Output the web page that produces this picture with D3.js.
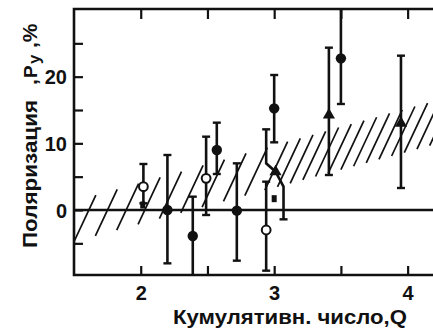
<!DOCTYPE html>
<html><head><meta charset="utf-8">
<script src="https://cdn.jsdelivr.net/npm/d3@7"></script>
<style>
html,body{margin:0;padding:0;background:#fff;}
svg{display:block;}
text{font-family:"Liberation Sans",Arial,sans-serif;font-weight:bold;fill:#111;}
</style></head>
<body>
<svg id="c" width="433" height="329"></svg>
<script>
// ---- data (Q = cumulative number, P = polarization %) ----
const filledQ  = [2.20, 2.39, 2.57, 2.72, 3.00, 3.50];
const filledP  = [0.0, -3.9, 9.0, -0.1, 15.25, 22.75];
const filledLo = [-8.0, -11.0, 5.4, -7.6, 10.15, 15.9];
const filledHi = [8.25, 2.0, 13.1, 7.0, 20.25, 31.0];

const openQ  = [2.02, 2.49, 2.94];
const openP  = [3.5, 4.75, -3.0];
const openLo = [1.0, -0.75, -9.1];
const openHi = [6.9, 11.0, 4.25];

const triQ  = [3.41, 3.95];
const triP  = [14.25, 13.0];
const triLo = [5.25, 3.3];
const triHi = [24.35, 23.15];

// triangle at Q≈3 with a bent error bar
const kinkQ = [2.94, 2.94, 3.01, 3.07, 3.07];
const kinkP = [12.1, 7.0, 5.75, 3.5, -1.4];
const kinkMarkIdx = 2;

const squareQ = [2.015, 3.0];
const squareP = [0.75, 1.7];

// hatched band edges
const bandQ    = [1.5, 4.25];
const bandLow  = [-4.75, 10.1];
const bandHigh = [1.25, 16.6];

const xTicks = [2, 2.5, 3, 3.5, 4];
const xLabels = {2:"2", 3:"3", 4:"4"};
const yTicks = [-5, 0, 5, 10, 15, 20, 25];
const yLabels = {0:"0", 10:"10", 20:"20"};

// ---- layout ----
const svg = d3.select("#c");
const L = 74, T = 9, B = 275, R = 441;
const x = d3.scaleLinear().domain([1.5, 4.25]).range([L, R]);
const y = d3.scaleLinear().domain([-9.75, 30.15]).range([B, T]);
const ink = "#111";

svg.append("defs").append("clipPath").attr("id","clip")
  .append("rect").attr("x",L).attr("y",T).attr("width",R-L).attr("height",B-T);

// hatch band
const lowL = d3.scaleLinear().domain(bandQ).range(bandLow);
const highL = d3.scaleLinear().domain(bandQ).range(bandHigh);
const hatchStarts = d3.range(1.5, 2.9, 0.16).concat(d3.range(2.93, 4.3, 0.095));
const slope = 0.47; // px right per px up
const hg = svg.append("g").attr("clip-path","url(#clip)");
hatchStarts.forEach(q0 => {
  const x0 = x(q0), y0 = y(lowL(q0));
  let t = 0;
  for (t = 0; t < 200; t += 0.5) {
    const xx = x0 + slope*t, yy = y0 - t;
    if (yy <= y(highL(x.invert(xx)))) break;
  }
  hg.append("line").attr("x1",x0).attr("y1",y0)
    .attr("x2",x0+slope*t).attr("y2",y0-t)
    .attr("stroke",ink).attr("stroke-width",1.7);
});

// frame
svg.append("path").attr("d",`M${R},${T}H${L}V${B}H${R}`)
  .attr("fill","none").attr("stroke",ink).attr("stroke-width",2.6);

// axes (inside ticks)
const ax = svg.append("g").attr("transform",`translate(0,${B})`)
  .call(d3.axisBottom(x).tickValues(xTicks).tickSize(-9).tickPadding(11)
    .tickFormat(d => xLabels[d] || ""));
const axT = svg.append("g").attr("transform",`translate(0,${T})`)
  .call(d3.axisTop(x).tickValues(xTicks).tickSize(-10).tickFormat(""));
const ay = svg.append("g").attr("transform",`translate(${L},0)`)
  .call(d3.axisLeft(y).tickValues(yTicks).tickSize(-9).tickPadding(7)
    .tickFormat(d => yLabels[d] !== undefined ? yLabels[d] : ""));
[ax, axT, ay].forEach(g => {
  g.select(".domain").remove();
  g.selectAll(".tick line").attr("stroke",ink).attr("stroke-width",2.2);
  g.selectAll(".tick text").attr("font-size",20).attr("fill",ink)
    .attr("font-family","'Liberation Sans',Arial,sans-serif").attr("font-weight","bold");
});
ay.selectAll(".tick text").attr("dy","0.36em");

// zero line
svg.append("line").attr("x1",L).attr("x2",R).attr("y1",y(0)).attr("y2",y(0))
  .attr("stroke",ink).attr("stroke-width",2.4);

// data marks
const g = svg.append("g").attr("clip-path","url(#clip)");
function errBar(q, lo, hi) {
  const xx = x(q);
  g.append("line").attr("x1",xx).attr("x2",xx).attr("y1",y(lo)).attr("y2",y(hi))
    .attr("stroke",ink).attr("stroke-width",2.6);
  [lo, hi].forEach(v => {
    g.append("line").attr("x1",xx-4).attr("x2",xx+4).attr("y1",y(v)).attr("y2",y(v))
      .attr("stroke",ink).attr("stroke-width",2.4);
  });
}
filledQ.forEach((q,i) => errBar(q, filledLo[i], filledHi[i]));
openQ.forEach((q,i) => errBar(q, openLo[i], openHi[i]));
triQ.forEach((q,i) => errBar(q, triLo[i], triHi[i]));

// bent error bar
g.append("path").attr("d", d3.line().x(d=>x(d[0])).y(d=>y(d[1]))(kinkQ.map((q,i)=>[q,kinkP[i]])))
  .attr("fill","none").attr("stroke",ink).attr("stroke-width",2.6);
[[kinkQ[0],kinkP[0]],[kinkQ[kinkQ.length-1],kinkP[kinkP.length-1]]].forEach(d => {
  g.append("line").attr("x1",x(d[0])-4).attr("x2",x(d[0])+4).attr("y1",y(d[1])).attr("y2",y(d[1]))
    .attr("stroke",ink).attr("stroke-width",2.4);
});

// squares
squareQ.forEach((q,i) => {
  g.append("rect").attr("x",x(q)-2.5).attr("y",y(squareP[i])-3.5).attr("width",5).attr("height",7)
    .attr("fill",ink);
});

// filled circles
filledQ.forEach((q,i) => {
  g.append("circle").attr("cx",x(q)).attr("cy",y(filledP[i])).attr("r",5.2).attr("fill",ink);
});
// open circles
openQ.forEach((q,i) => {
  g.append("circle").attr("cx",x(q)).attr("cy",y(openP[i])).attr("r",4.4)
    .attr("fill","#fff").attr("stroke",ink).attr("stroke-width",2);
});
// triangles
const triSym = d3.symbol().type(d3.symbolTriangle).size(64);
triQ.map((q,i)=>[q,triP[i]]).concat([[kinkQ[kinkMarkIdx],kinkP[kinkMarkIdx]]]).forEach(d => {
  g.append("path").attr("d",triSym()).attr("transform",`translate(${x(d[0])},${y(d[1])})`)
    .attr("fill",ink);
});

// axis titles
svg.append("text").attr("x",173).attr("y",324).attr("font-size",20)
  .attr("textLength",234).attr("lengthAdjust","spacingAndGlyphs")
  .text("Кумулятивн. число,Q");

// y title: rotated, read bottom-to-top (x' = distance from start at screen y=248)
const yt = svg.append("g").attr("transform","translate(37,248) rotate(-90)");
yt.append("text").attr("x",0).attr("y",0).attr("font-size",21)
  .attr("textLength",148).attr("lengthAdjust","spacingAndGlyphs").text("Поляризация");
yt.append("text").attr("x",163).attr("y",0).attr("font-size",21).text(",");
yt.append("text").attr("x",170).attr("y",0).attr("font-size",19).text("P");
yt.append("text").attr("x",184).attr("y",3).attr("font-size",17).text("y");
yt.append("text").attr("x",200).attr("y",0).attr("font-size",21).text(",%");
</script>
</body></html>
